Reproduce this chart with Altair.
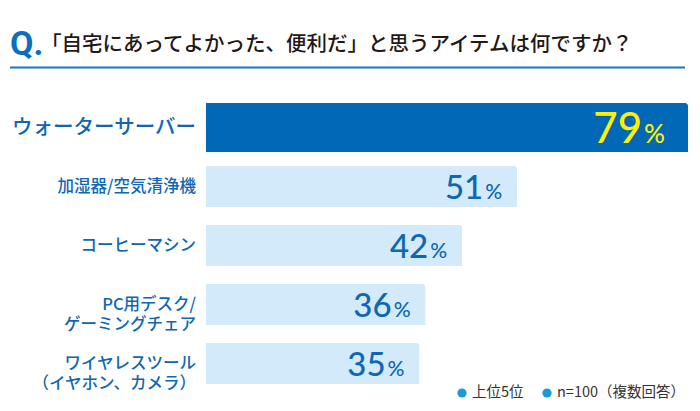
import altair as alt
import pandas as pd

# ---- data ----
categories = [
    "ウォーターサーバー",
    "加湿器/空気清浄機",
    "コーヒーマシン",
    "PC用デスク/\nゲーミングチェア",
    "ワイヤレスツール\n（イヤホン、カメラ）",
]
values = [79, 51, 42, 36, 35]
ranks = [1, 2, 3, 4, 5]
q_mark = ["Q."]
title_text = ["「自宅にあってよかった、便利だ」と思うアイテムは何ですか？"]
legend_items = ["上位5位", "n=100（複数回答）"]

JP = "Noto Sans CJK JP"
NUM = "Lato"
DARK = "#0068b7"
LIGHT = "#d3eafb"
TXT_BLUE = "#0f67b1"
YELLOW = "#fff000"

df = pd.DataFrame({"item": categories, "value": values, "rank": ranks})

y_enc = alt.Y("item:N", sort=categories, axis=None,
              scale=alt.Scale(paddingInner=0, paddingOuter=0))
x_enc = alt.X("value:Q", axis=None,
              scale=alt.Scale(domain=[0, 79], nice=False, zero=True))

base = alt.Chart(df)

is_top = "datum.rank == 1"
top = base.transform_filter(is_top)
rest = base.transform_filter("datum.rank != 1")

top_bar = top.mark_bar(size=49, cornerRadiusTopRight=3, color=DARK).encode(
    x=x_enc, y=y_enc)
rest_bars = rest.mark_bar(size=41, cornerRadiusTopRight=3, color=LIGHT).encode(
    x=x_enc, y=y_enc)

top_label = top.mark_text(
    align="right", baseline="middle", font=JP, fontSize=20.5,
    fontWeight=500, color=TXT_BLUE
).encode(y=y_enc, x=alt.value(-10), text="item:N")

rest_labels = rest.mark_text(
    align="right", baseline="middle", lineBreak="\n", font=JP,
    lineHeight=20, fontSize=16.5, fontWeight=500, color=TXT_BLUE
).encode(y=y_enc, x=alt.value(-10), text="item:N")

top_num = top.mark_text(
    align="right", baseline="alphabetic", dx=-46, dy=15,
    fontSize=42, font=NUM, fontWeight=500, color=YELLOW
).encode(x=x_enc, y=y_enc, text="value:Q")
top_pct = top.mark_text(
    align="left", baseline="alphabetic", dx=-44, dy=15,
    fontSize=26, font=NUM, fontWeight=500, color=YELLOW
).encode(x=x_enc, y=y_enc, text=alt.value("%"))

rest_num = rest.mark_text(
    align="right", baseline="alphabetic", dx=-34, dy=12,
    fontSize=33, font=NUM, fontWeight=500, color=TXT_BLUE
).encode(x=x_enc, y=y_enc, text="value:Q")
rest_pct = rest.mark_text(
    align="left", baseline="alphabetic", dx=-32, dy=12,
    fontSize=21, font=NUM, fontWeight=500, color=TXT_BLUE
).encode(x=x_enc, y=y_enc, text=alt.value("%"))

# ---- heading ----
q_df = pd.DataFrame({"t": q_mark})
t_df = pd.DataFrame({"t": title_text})

q_text = alt.Chart(q_df).mark_text(
    align="left", baseline="alphabetic", font="Roboto", fontWeight="bold",
    fontSize=34, color="#0a6fbf"
).encode(x=alt.value(-196), y=alt.value(-43), text="t:N")

title = alt.Chart(t_df).mark_text(
    align="left", baseline="middle", font=JP, fontSize=20.5, fontWeight=500,
    color="#231815"
).encode(x=alt.value(-165), y=alt.value(-53), text="t:N")

rule = alt.Chart(q_df).mark_rule(color="#1b75bc", strokeWidth=2).encode(
    x=alt.value(-196), x2=alt.value(479), y=alt.value(-30.5)
)

# ---- legend note ----
l1 = pd.DataFrame({"t": [legend_items[0]]})
l2 = pd.DataFrame({"t": [legend_items[1]]})
BULLET = "#1a9ad6"

dot1 = alt.Chart(l1).mark_circle(size=85, opacity=1, color=BULLET).encode(
    x=alt.value(256), y=alt.value(295))
txt1 = alt.Chart(l1).mark_text(
    align="left", baseline="middle", font=JP, fontSize=14.5, color="#333333"
).encode(x=alt.value(266), y=alt.value(295), text="t:N")
dot2 = alt.Chart(l2).mark_circle(size=85, opacity=1, color=BULLET).encode(
    x=alt.value(341), y=alt.value(295))
txt2 = alt.Chart(l2).mark_text(
    align="left", baseline="middle", font=JP, fontSize=14.5, color="#333333"
).encode(x=alt.value(351), y=alt.value(295), text="t:N")

chart = alt.layer(
    top_bar, rest_bars, top_label, rest_labels,
    top_num, top_pct, rest_num, rest_pct,
    q_text, title, rule, dot1, txt1, dot2, txt2
).properties(
    width=482, height=295,
    padding={"left": 198, "top": 90, "right": 4, "bottom": 10},
    autosize="none",
).configure_view(stroke=None)

chart.save("out.html", embed_options={"renderer": "svg", "actions": False})
